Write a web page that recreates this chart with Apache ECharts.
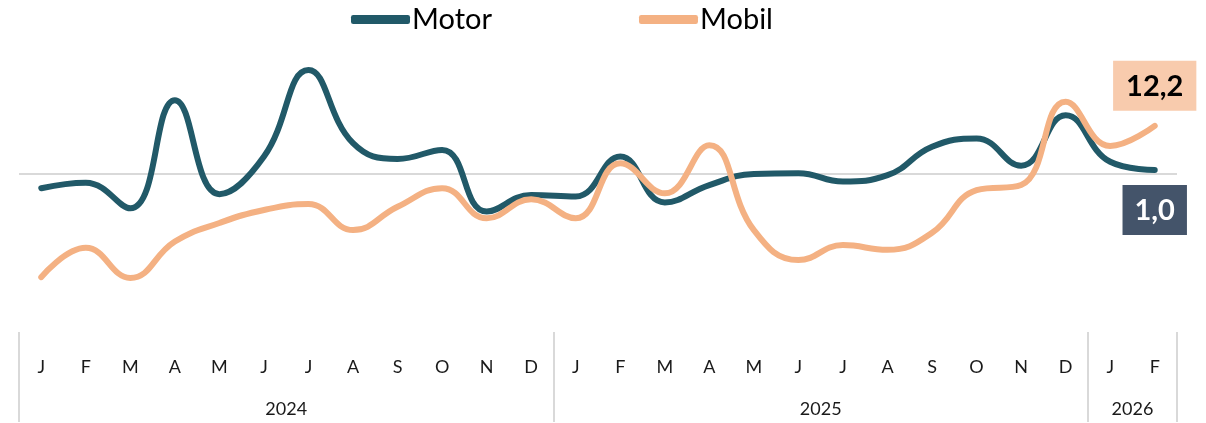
<!DOCTYPE html>
<html>
<head>
<meta charset="utf-8">
<script src="https://cdn.jsdelivr.net/npm/echarts@6/dist/echarts.min.js"></script>
<style>
  html, body { margin: 0; padding: 0; background: #fff; }
  #chart { width: 1206px; height: 423px; }
</style>
</head>
<body>
<div id="chart"></div>
<script>
// month labels, Jan 2024 .. Feb 2026
var months = ['J','F','M','A','M','J','J','A','S','O','N','D',
              'J','F','M','A','M','J','J','A','S','O','N','D',
              'J','F'];
var years = ['2024', '2025', '2026'];
var yearSpans = [12, 12, 2];

var motor = [-3.6, -2.2, -8.7, 18.7, -5.1, 4.4, 26.3, 7.8, 3.8, 6.1, -9.5, -5.3,
             -5.7, 4.4, -7.2, -2.8, 0.0, 0.2, -1.9, -0.3, 6.9, 9.0, 2.1, 14.9,
             3.1, 1.0];
var mobil = [-26.1, -18.7, -26.3, -17.1, -12.4, -9.1, -7.6, -14.2, -8.3, -3.6, -11.2, -6.4,
             -11.2, 2.7, -4.9, 7.3, -14.2, -21.8, -18.0, -19.2, -14.9, -4.1, -2.8, 18.3,
             7.1, 12.2];

// year group boundaries and centres, in month units
var bounds = [0], centres = [];
yearSpans.forEach(function (n, i) {
  centres.push(bounds[i] + n / 2);
  bounds.push(bounds[i] + n);
});

function fmt(v) { return v.toFixed(1).replace('.', ','); }

// only the last point carries a label
function withEndLabel(arr, label) {
  return arr.map(function (v, i) {
    if (i < arr.length - 1) return v;
    return { value: v, label: Object.assign({ show: true, formatter: fmt(v) }, label) };
  });
}

var myChart = echarts.init(document.getElementById('chart'));
myChart.setOption({
  animation: false,
  textStyle: { fontFamily: 'Lato' },
  legend: {
    left: 346,
    top: 0,
    itemWidth: 59,
    itemHeight: 9,
    itemGap: 147,
    icon: 'roundRect',
    textStyle: { fontSize: 29, color: '#000', padding: [0, 0, 0, -3] },
    data: ['Motor', 'Mobil']
  },
  grid: { left: 19, right: 29, top: 55.5, height: 276.5 },
  xAxis: [
    {
      type: 'category',
      data: months,
      boundaryGap: true,
      axisLine: { show: false },
      axisTick: { show: false },
      axisLabel: { margin: 26, fontSize: 18, color: '#1a1a1a', interval: 0 }
    },
    {
      type: 'value',
      min: 0,
      max: bounds[bounds.length - 1],
      position: 'bottom',
      axisLine: { show: false },
      splitLine: { show: false },
      axisTick: {
        show: true,
        customValues: bounds,
        length: 90,
        lineStyle: { color: '#d9d9d9', width: 2 }
      },
      axisLabel: {
        customValues: centres,
        margin: 68,
        fontSize: 18,
        color: '#1a1a1a',
        formatter: function (v) { return years[centres.indexOf(v)]; }
      }
    }
  ],
  yAxis: {
    type: 'value',
    min: -40,
    max: 30,
    show: false
  },
  series: [
    {
      name: 'Motor',
      type: 'line',
      smooth: 0.45,
      z: 3,
      symbol: 'circle',
      symbolSize: 0,
      itemStyle: { color: '#215968' },
      lineStyle: { width: 6, color: '#215968', cap: 'round' },
      data: withEndLabel(motor, {
        position: 'bottom',
        distance: 15,
        fontSize: 29,
        fontWeight: 'bold',
        color: '#fff',
        backgroundColor: '#44546a',
        padding: [11, 12, 10, 12]
      }),
      markLine: {
        silent: true,
        symbol: 'none',
        z: 1,
        label: { show: false },
        lineStyle: { color: '#d9d9d9', width: 2, type: 'solid' },
        data: [{ yAxis: 0 }]
      }
    },
    {
      name: 'Mobil',
      type: 'line',
      smooth: 0.45,
      z: 4,
      symbol: 'circle',
      symbolSize: 0,
      itemStyle: { color: '#f4b183' },
      lineStyle: { width: 6, color: '#f4b183', cap: 'round' },
      data: withEndLabel(mobil, {
        position: 'top',
        distance: 15,
        fontSize: 29,
        fontWeight: 'bold',
        color: '#000',
        backgroundColor: '#f8cbad',
        padding: [11, 13, 10, 13]
      })
    }
  ]
});
</script>
</body>
</html>
